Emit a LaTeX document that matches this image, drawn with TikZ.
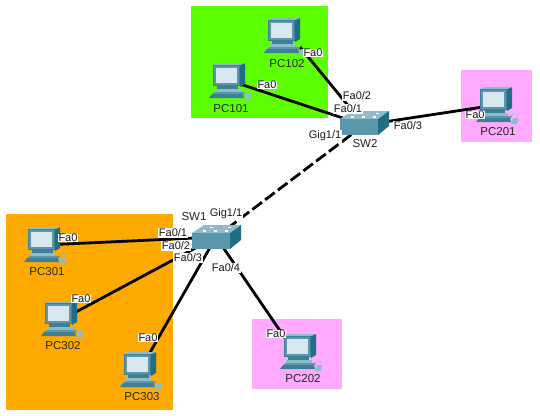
\documentclass[tikz,border=0pt]{standalone}
\usepackage{fontspec}
\setmainfont{Liberation Sans}
\definecolor{zgreen}{HTML}{5BFF00}
\definecolor{zorange}{HTML}{FFAA00}
\definecolor{zpink}{HTML}{FFAAFF}
\definecolor{tealA}{HTML}{5A97AC}
\definecolor{tealB}{HTML}{3F7F95}
\definecolor{tealC}{HTML}{8FBBCB}
\definecolor{tealD}{HTML}{1E6F85}
\definecolor{screenc}{HTML}{D9E8EE}
\tikzset{
 x=1pt,y=-1pt,
 zone/.style={fill=#1,draw=none},
 devpt/.style={inner sep=0pt,minimum size=0pt,outer sep=0pt},
 lnk/.style={line width=2.8pt,black},
 trunk/.style={line width=2.8pt,black,dash pattern=on 12pt off 4pt},
 nm/.style={font=\fontsize{11.5}{12}\selectfont,text=black!85,inner sep=0pt},
 port/.style={font=\fontsize{11}{12}\selectfont,text=black!90,fill=white,inner sep=0.5pt},
}
\newcommand{\pcicon}[2]{\begin{scope}[shift={(#1,#2)}]
 \fill[tealD] (27,2) -- (32,0) -- (32,21) -- (27,24) -- cycle;
 \fill[tealC] (0,2) -- (5,0) -- (32,0) -- (27,2) -- cycle;
 \fill[tealB] (0,2) rectangle (27,23);
 \fill[tealA] (1,3) rectangle (26,22);
 \fill[screenc] (3,5) rectangle (24,20);
 \fill[tealB] (4,23) rectangle (25,26);
 \fill[tealC] (2,26) rectangle (28,29);
 \fill[tealA] (-1,31) -- (2,29) -- (29,29) -- (32,29) -- (30,32) -- (-1,32) -- cycle;
 \fill[tealB] (-4,35) -- (-1,31) -- (30,31) -- (31,35) -- cycle;
 \draw[tealC,line width=.5pt] (30,29) .. controls (35,25) and (38,27) .. (38,30);
 \fill[tealC] (33,31) -- (38,31) -- (37,37) -- (31,37) -- cycle;
\end{scope}}
\newcommand{\swicon}[2]{\begin{scope}[shift={(#1,#2)}]
 \fill[tealC] (0,8) -- (12,0) -- (49,0) -- (38,8) -- cycle;
 \fill[tealA] (0,8) rectangle (38,24);
 \fill[tealD] (38,8) -- (49,0) -- (49,15) -- (38,24) -- cycle;
 \fill[white] (11,5) rectangle (13.5,6.5);
 \fill[white] (22,5) rectangle (24.5,6.5);
 \fill[white] (33,5) rectangle (35.5,6.5);
 \fill[white] (18,2) rectangle (20.5,3.2);
 \fill[white] (36,2) rectangle (38.5,3.2);
\end{scope}}
\begin{document}
\begin{tikzpicture}
\useasboundingbox (0,0) rectangle (540,415);
\fill[white] (0,0) rectangle (540,415);
\fill[zone=zgreen] (191,6) rectangle (328,118);
\fill[zone=zpink] (461,70) rectangle (532,142);
\fill[zone=zorange] (6,214) rectangle (173,410);
\fill[zone=zpink] (252,319) rectangle (342,389);
\node[devpt] (sw2) at (364,125) {};
\node[devpt] (sw1) at (216,237) {};
\node[devpt] (pc101) at (240,84) {};
\node[devpt] (pc102) at (300,47) {};
\node[devpt] (pc201) at (496,105) {};
\node[devpt] (pc301) at (44,245) {};
\node[devpt] (pc302) at (61,320) {};
\node[devpt] (pc303) at (140,370) {};
\node[devpt] (pc202) at (298,357) {};
\draw[lnk] (pc101) -- (sw2);
\draw[lnk] (pc102) -- (sw2);
\draw[lnk] (pc201) -- (sw2);
\draw[trunk] (sw2) -- (sw1);
\draw[lnk] (pc301) -- (sw1);
\draw[lnk] (pc302) -- (sw1);
\draw[lnk] (pc303) -- (sw1);
\draw[lnk] (pc202) -- (sw1);
\pcicon{213}{63}
\pcicon{268}{18}
\pcicon{480}{87}
\pcicon{28}{227}
\pcicon{45}{301}
\pcicon{124}{352}
\pcicon{284}{334}
\swicon{340}{111}
\swicon{192}{225}
\node[nm] (lpc101) at (231,109) {PC101};
\node[nm] (lpc102) at (287,64) {PC102};
\node[nm] (lpc201) at (498,132) {PC201};
\node[nm] (lpc301) at (47,272) {PC301};
\node[nm] (lpc302) at (63,346) {PC302};
\node[nm] (lpc303) at (142,397) {PC303};
\node[nm] (lpc202) at (303,379) {PC202};
\node[nm] (lsw2) at (365,144) {SW2};
\node[nm] (lsw1) at (194,217) {SW1};
\node[port] (a1) at (267,85) {Fa0};
\node[port] (a2) at (313,53) {Fa0};
\node[port] (a3) at (475,115) {Fa0};
\node[port] (a4) at (68,238) {Fa0};
\node[port] (a5) at (81,299) {Fa0};
\node[port] (a6) at (148,338) {Fa0};
\node[port] (a7) at (276,334) {Fa0};
\node[port] (b1) at (357,96) {Fa0/2};
\node[port] (b2) at (348,109) {Fa0/1};
\node[port] (b3) at (325,136) {Gig1/1};
\node[port] (b4) at (408,126) {Fa0/3};
\node[port] (c1) at (226,214) {Gig1/1};
\node[port] (c2) at (173,233) {Fa0/1};
\node[port] (c3) at (176,246) {Fa0/2};
\node[port] (c4) at (188,258) {Fa0/3};
\node[port] (c5) at (226,268) {Fa0/4};
\end{tikzpicture}
\end{document}
